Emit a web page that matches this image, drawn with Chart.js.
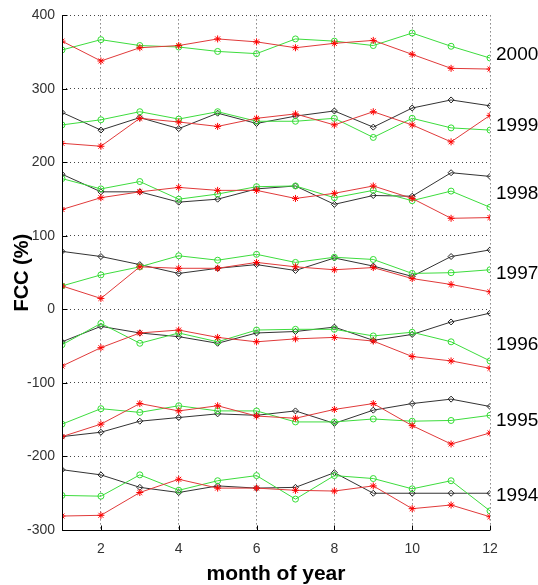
<html lang="en">
  <head>
    <title>FCC by month of year</title>
    <style type="text/css">
      * {
        padding: 0;
        margin: 0;
        box-sizing: border-box;
      }
      body {
        background: #ffffff;
      }
      .wrapper {
        width: 538px;
        height: 585px;
      }
    </style>
  </head>
  <body>
    <div class="wrapper">
      <canvas id="fcc" width="538" height="585"></canvas>
    </div>
    <script src="https://cdn.jsdelivr.net/npm/chart.js@4.4.1/dist/chart.umd.min.js"></script>
    <script>
      const months = [1, 2, 3, 4, 5, 6, 7, 8, 9, 10, 11, 12];
      const years = ["2000", "1999", "1998", "1997", "1996", "1995", "1994"];
      // where the year name sits on the right, in FCC units
      const yearLabelAt = [347, 250, 157, 48, -48, -152, -254];

      // red = stars, green = circles, black = diamonds
      const red2000 = [365, 338, 356, 359, 368, 364, 356, 362, 366, 347, 328, 327];
      const green2000 = [353, 367, 359, 357, 351, 348, 368, 365, 359, 376, 358, 342];

      const red1999 = [226, 222, 260, 255, 249, 260, 266, 251, 269, 251, 228, 264];
      const green1999 = [251, 258, 269, 259, 269, 256, 256, 260, 234, 260, 247, 244];
      const black1999 = [268, 244, 261, 246, 267, 253, 263, 270, 248, 274, 285, 277];

      const red1998 = [136, 152, 160, 166, 162, 162, 151, 158, 168, 151, 124, 125];
      const green1998 = [178, 164, 174, 150, 157, 167, 168, 152, 162, 148, 161, 139];
      const black1998 = [184, 160, 160, 146, 150, 164, 168, 143, 155, 154, 186, 181];

      const red1997 = [32, 15, 58, 56, 56, 64, 58, 54, 57, 42, 34, 24];
      const green1997 = [32, 47, 58, 73, 67, 75, 64, 71, 68, 49, 50, 54];
      const black1997 = [79, 72, 61, 49, 56, 61, 53, 70, 59, 45, 72, 81];

      const red1996 = [-77, -52, -32, -28, -38, -44, -40, -38, -43, -64, -70, -80];
      const green1996 = [-48, -19, -46, -32, -44, -28, -27, -27, -36, -31, -44, -70];
      const black1996 = [-44, -23, -32, -37, -46, -32, -30, -24, -42, -34, -17, -5];

      const red1995 = [-173, -156, -128, -138, -131, -145, -148, -136, -128, -158, -183, -168];
      const green1995 = [-156, -135, -140, -131, -138, -138, -153, -153, -149, -152, -151, -144];
      const black1995 = [-173, -167, -152, -147, -142, -144, -138, -155, -137, -128, -122, -132];

      const red1994 = [-281, -280, -249, -231, -243, -243, -246, -247, -240, -271, -266, -282];
      const green1994 = [-253, -254, -225, -246, -233, -226, -258, -226, -230, -244, -233, -274];
      const black1994 = [-218, -225, -242, -249, -240, -243, -242, -222, -250, -250, -250, -250];

      const yTicks = [-300, -200, -100, 0, 100, 200, 300, 400];
      const xTicks = [2, 4, 6, 8, 10, 12];

      const font = "'Liberation Sans', Arial, sans-serif";

      const styles = {
        red: { line: "#e03a3a", point: "#ff0000", pointStyle: "star", radius: 3.5 },
        green: { line: "#3ddc3d", point: "#33dd33", pointStyle: "circle", radius: 3 },
        black: { line: "#333333", point: "#222222", pointStyle: "rectRot", radius: 3 },
      };

      const series = [
        ["red", red2000], ["green", green2000],
        ["red", red1999], ["green", green1999], ["black", black1999],
        ["red", red1998], ["green", green1998], ["black", black1998],
        ["red", red1997], ["green", green1997], ["black", black1997],
        ["red", red1996], ["green", green1996], ["black", black1996],
        ["red", red1995], ["green", green1995], ["black", black1995],
        ["red", red1994], ["green", green1994], ["black", black1994],
      ];

      const datasets = series.map(([colour, values]) => {
        const s = styles[colour];
        return {
          data: months.map((m, i) => ({ x: m, y: values[i] })),
          borderColor: s.line,
          borderWidth: 1,
          backgroundColor: "transparent",
          pointStyle: s.pointStyle,
          pointRadius: s.radius,
          pointBorderColor: s.point,
          pointBorderWidth: 1,
          pointBackgroundColor: "transparent",
          tension: 0,
        };
      });

      // matlab style: solid left/bottom axes, inward tick marks, year names on the right
      const extras = {
        id: "extras",
        afterDraw(chart) {
          const { ctx, chartArea: area, scales: { x, y } } = chart;
          ctx.save();
          ctx.strokeStyle = "#000";
          ctx.lineWidth = 1;
          ctx.beginPath();
          const left = Math.round(area.left) + 0.5;
          const bottom = Math.round(area.bottom) + 0.5;
          ctx.moveTo(left, area.top);
          ctx.lineTo(left, bottom);
          ctx.lineTo(area.right, bottom);
          yTicks.forEach((v) => {
            const py = Math.round(y.getPixelForValue(v)) + 0.5;
            ctx.moveTo(left, py);
            ctx.lineTo(left + 5, py);
          });
          xTicks.forEach((v) => {
            const px = Math.round(x.getPixelForValue(v)) + 0.5;
            ctx.moveTo(px, bottom);
            ctx.lineTo(px, bottom - 5);
          });
          ctx.stroke();

          ctx.fillStyle = "#000";
          ctx.font = "19px " + font;
          ctx.textBaseline = "middle";
          ctx.textAlign = "left";
          years.forEach((yr, i) => {
            ctx.fillText(yr, area.right + 6, y.getPixelForValue(yearLabelAt[i]));
          });
          ctx.restore();
        },
      };

      const chart = new Chart(document.getElementById("fcc"), {
        type: "line",
        data: { datasets },
        plugins: [extras],
        options: {
          responsive: false,
          animation: false,
          layout: { padding: { left: 0, right: 48, top: 12, bottom: 0 } },
          plugins: {
            legend: { display: false },
            tooltip: { enabled: false },
          },
          scales: {
            x: {
              type: "linear",
              min: 1,
              max: 12,
              afterBuildTicks: (scale) => {
                scale.ticks = xTicks.map((v) => ({ value: v }));
              },
              afterFit: (scale) => {
                scale.height = 55;
              },
              grid: { color: "#444", drawTicks: false, lineWidth: 1 },
              border: { display: false, dash: [1, 3] },
              ticks: {
                color: "#333",
                padding: 11,
                font: { family: font, size: 14 },
                maxRotation: 0,
              },
              title: {
                display: true,
                text: "month of year",
                color: "#000",
                font: { family: font, size: 21, weight: "bold", lineHeight: 1 },
                padding: { top: 0, bottom: 0 },
              },
            },
            y: {
              min: -300,
              max: 400,
              afterBuildTicks: (scale) => {
                scale.ticks = yTicks.map((v) => ({ value: v }));
              },
              afterFit: (scale) => {
                scale.width = 62;
              },
              grid: { color: "#444", drawTicks: false, lineWidth: 1 },
              border: { display: false, dash: [1, 3] },
              ticks: {
                color: "#333",
                padding: 7,
                font: { family: font, size: 14 },
              },
              title: {
                display: true,
                text: "FCC (%)",
                color: "#000",
                font: { family: font, size: 20, weight: "bold" },
                padding: { top: 10, bottom: 0 },
              },
            },
          },
        },
      });
    </script>
  </body>
</html>
